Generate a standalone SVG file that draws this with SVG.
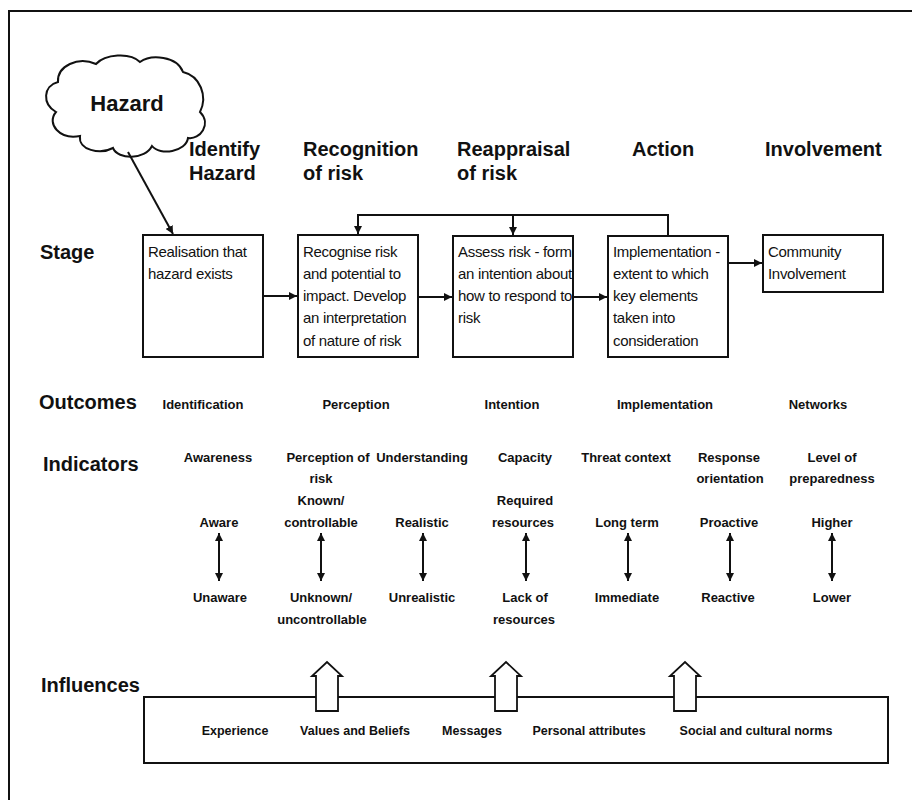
<svg xmlns="http://www.w3.org/2000/svg" width="912" height="800" viewBox="0 0 912 800">
  <style>
    .frame { fill: none; stroke: #111; stroke-width: 2; }
    .box { fill: #fff; stroke: #111; stroke-width: 2; }
    .line { fill: none; stroke: #111; stroke-width: 2; }
    .block { fill: #fff; stroke: #111; stroke-width: 1.8; stroke-linejoin: miter; }
    .head { font-family: "Liberation Sans", Arial, sans-serif; font-weight: bold; font-size: 20px; fill: #111; }
    .cloudtxt { font-family: "Liberation Sans", Arial, sans-serif; font-weight: bold; font-size: 22px; fill: #111; }
    .btxt { font-family: "Liberation Sans", Arial, sans-serif; font-size: 15px; letter-spacing: -0.3px; fill: #111; }
    .small { font-family: "Liberation Sans", Arial, sans-serif; font-weight: bold; font-size: 13px; fill: #111; text-anchor: middle; }
    .infl { font-family: "Liberation Sans", Arial, sans-serif; font-weight: bold; font-size: 12.5px; fill: #111; text-anchor: middle; }
  </style>
  <defs>
    <marker id="arr" viewBox="0 0 10 10" refX="10" refY="5" markerWidth="4" markerHeight="4" orient="auto-start-reverse" markerUnits="strokeWidth">
      <path d="M0,0 L10,5 L0,10 Z" fill="#111"/>
    </marker>
    <clipPath id="clip-assess">
      <rect x="454" y="237" width="118" height="119"/>
    </clipPath>
  </defs>

  <rect width="912" height="800" fill="#fff"/>

  <!-- page frame: top and left rules -->
  <path class="frame" d="M9,800 L9,11 L912,11"/>

  <!-- row labels -->
  <g id="row-labels">
    <text class="head" x="40" y="259">Stage</text>
    <text class="head" x="39" y="409">Outcomes</text>
    <text class="head" x="43" y="471">Indicators</text>
    <text class="head" x="41" y="692">Influences</text>
  </g>

  <!-- stage headings -->
  <g id="headings">
    <text class="head" x="189" y="156">Identify</text>
    <text class="head" x="189" y="180">Hazard</text>
    <text class="head" x="303" y="156">Recognition</text>
    <text class="head" x="303" y="180">of risk</text>
    <text class="head" x="457" y="156">Reappraisal</text>
    <text class="head" x="457" y="180">of risk</text>
    <text class="head" x="632" y="156">Action</text>
    <text class="head" x="765" y="156">Involvement</text>
  </g>

  <!-- hazard cloud -->
  <g id="hazard">
    <path class="box" d="M58,82 C57,66 78,56 96,64 C105,54 130,52 140,62 C151,54 177,56 183,72 C200,76 208,96 200,112 C212,124 200,140 188,138 C186,152 160,156 152,146 C145,160 118,160 113,148 C100,155 78,150 80,136 C60,140 46,124 56,112 C42,104 43,86 58,82 Z"/>
    <text class="cloudtxt" x="127" y="111" text-anchor="middle">Hazard</text>
  </g>

  <!-- stage boxes -->
  <g id="stage-identify">
    <rect class="box" x="143" y="235" width="120" height="122"/>
    <text class="btxt" x="148" y="257">Realisation that</text>
    <text class="btxt" x="148" y="279">hazard exists</text>
  </g>
  <g id="stage-recognition">
    <rect class="box" x="298" y="235" width="120" height="122"/>
    <text class="btxt" x="303" y="257">Recognise risk</text>
    <text class="btxt" x="303" y="279">and potential to</text>
    <text class="btxt" x="303" y="301">impact. Develop</text>
    <text class="btxt" x="303" y="323">an interpretation</text>
    <text class="btxt" x="303" y="346">of nature of risk</text>
  </g>
  <g id="stage-reappraisal">
    <rect class="box" x="453" y="236" width="120" height="121"/>
    <g clip-path="url(#clip-assess)">
      <text class="btxt" x="458" y="257">Assess risk - form</text>
      <text class="btxt" x="458" y="279">an intention about</text>
      <text class="btxt" x="458" y="301">how to respond to</text>
      <text class="btxt" x="458" y="323">risk</text>
    </g>
  </g>
  <g id="stage-action">
    <rect class="box" x="608" y="236" width="120" height="121"/>
    <text class="btxt" x="613" y="257">Implementation -</text>
    <text class="btxt" x="613" y="279">extent to which</text>
    <text class="btxt" x="613" y="301">key elements</text>
    <text class="btxt" x="613" y="323">taken into</text>
    <text class="btxt" x="613" y="346">consideration</text>
  </g>
  <g id="stage-involvement">
    <rect class="box" x="763" y="235" width="120" height="57"/>
    <text class="btxt" x="768" y="257">Community</text>
    <text class="btxt" x="768" y="279">Involvement</text>
  </g>

  <!-- connectors -->
  <g id="connectors">
    <line class="line" x1="128" y1="152" x2="173" y2="234" marker-end="url(#arr)"/>
    <line class="line" x1="263" y1="296" x2="297" y2="296" marker-end="url(#arr)"/>
    <line class="line" x1="418" y1="297" x2="452" y2="297" marker-end="url(#arr)"/>
    <line class="line" x1="573" y1="297" x2="607" y2="297" marker-end="url(#arr)"/>
    <line class="line" x1="728" y1="263" x2="762" y2="263" marker-end="url(#arr)"/>
    <!-- feedback loop from action back to earlier stages -->
    <path class="line" d="M668,236 L668,215 L358,215 L358,234" marker-end="url(#arr)"/>
    <line class="line" x1="513" y1="215" x2="513" y2="235" marker-end="url(#arr)"/>
  </g>

  <!-- outcomes -->
  <g id="outcomes">
    <text class="small" x="203" y="409">Identification</text>
    <text class="small" x="356" y="409">Perception</text>
    <text class="small" x="512" y="409">Intention</text>
    <text class="small" x="665" y="409">Implementation</text>
    <text class="small" x="818" y="409">Networks</text>
  </g>

  <!-- indicators -->
  <g id="ind-awareness">
    <text class="small" x="218" y="462">Awareness</text>
    <text class="small" x="219" y="527">Aware</text>
    <text class="small" x="220" y="602">Unaware</text>
  </g>
  <g id="ind-perception">
    <text class="small" x="328" y="462">Perception of</text>
    <text class="small" x="321" y="483">risk</text>
    <text class="small" x="321" y="505">Known/</text>
    <text class="small" x="321" y="527">controllable</text>
    <text class="small" x="321" y="602">Unknown/</text>
    <text class="small" x="322" y="624">uncontrollable</text>
  </g>
  <g id="ind-understanding">
    <text class="small" x="422" y="462">Understanding</text>
    <text class="small" x="422" y="527">Realistic</text>
    <text class="small" x="422" y="602">Unrealistic</text>
  </g>
  <g id="ind-capacity">
    <text class="small" x="525" y="462">Capacity</text>
    <text class="small" x="525" y="505">Required</text>
    <text class="small" x="523" y="527">resources</text>
    <text class="small" x="525" y="602">Lack of</text>
    <text class="small" x="524" y="624">resources</text>
  </g>
  <g id="ind-threat">
    <text class="small" x="626" y="462">Threat context</text>
    <text class="small" x="627" y="527">Long term</text>
    <text class="small" x="627" y="602">Immediate</text>
  </g>
  <g id="ind-response">
    <text class="small" x="729" y="462">Response</text>
    <text class="small" x="730" y="483">orientation</text>
    <text class="small" x="729" y="527">Proactive</text>
    <text class="small" x="728" y="602">Reactive</text>
  </g>
  <g id="ind-preparedness">
    <text class="small" x="832" y="462">Level of</text>
    <text class="small" x="832" y="483">preparedness</text>
    <text class="small" x="832" y="527">Higher</text>
    <text class="small" x="832" y="602">Lower</text>
  </g>

  <!-- two-way scales -->
  <g id="scales">
    <line class="line" x1="219" y1="533" x2="219" y2="581" marker-start="url(#arr)" marker-end="url(#arr)"/>
    <line class="line" x1="321" y1="533" x2="321" y2="581" marker-start="url(#arr)" marker-end="url(#arr)"/>
    <line class="line" x1="423" y1="533" x2="423" y2="581" marker-start="url(#arr)" marker-end="url(#arr)"/>
    <line class="line" x1="526" y1="533" x2="526" y2="581" marker-start="url(#arr)" marker-end="url(#arr)"/>
    <line class="line" x1="628" y1="533" x2="628" y2="581" marker-start="url(#arr)" marker-end="url(#arr)"/>
    <line class="line" x1="730" y1="533" x2="730" y2="581" marker-start="url(#arr)" marker-end="url(#arr)"/>
    <line class="line" x1="832" y1="533" x2="832" y2="581" marker-start="url(#arr)" marker-end="url(#arr)"/>
  </g>

  <!-- influences panel -->
  <g id="influences">
    <rect class="box" x="144" y="697" width="744" height="66"/>
    <text class="infl" x="235" y="735">Experience</text>
    <text class="infl" x="355" y="735">Values and Beliefs</text>
    <text class="infl" x="472" y="735">Messages</text>
    <text class="infl" x="589" y="735">Personal attributes</text>
    <text class="infl" x="756" y="735">Social and cultural norms</text>
  </g>

  <!-- upward block arrows from influences -->
  <g id="influence-arrows">
    <path class="block" d="M316,711 L316,676 L312,676 L327,662 L342,676 L338,676 L338,711 Z"/>
    <path class="block" d="M495,711 L495,676 L491,676 L506,662 L521,676 L517,676 L517,711 Z"/>
    <path class="block" d="M674,711 L674,676 L670,676 L685,662 L700,676 L696,676 L696,711 Z"/>
  </g>
</svg>
